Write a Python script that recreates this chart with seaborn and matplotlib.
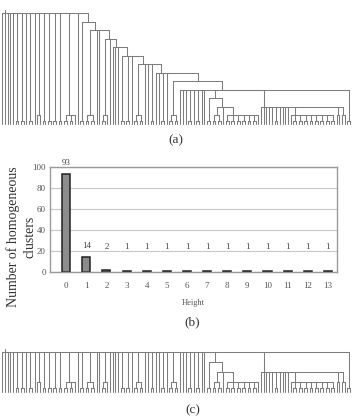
import numpy as np
import pandas as pd
import seaborn as sns
from matplotlib import pyplot as plt

# (b) number of homogeneous clusters per height
heights = list(range(14))
n_clusters = [93, 14, 2, 1, 1, 1, 1, 1, 1, 1, 1, 1, 1, 1]

# dendrogram: an int n is n leaves (n > 1 joined just above the base),
# a tuple is (merge height, children); children merge right to left
s1 = (1, [2, 2, 2, 2, 2, 2, 1])
s2 = (2, [(1, [2, 2]), 1, s1])
s3 = (3, [2, s2])
r2 = (2, [1, 1, 1, 1, 1, 2, 1, 1, 1, 1,
          (1, [1, 2, 2, 2, 2, 2, 2, 2, 2]), (1, [1, 1]), (1, [1, 1])])
s4 = (4, [(4, [1, 1, 1, 2, 1, 2, 1, 1]), (4, [s3, r2, 2])])
s5 = (5, [(1, [2, 2]), s4])
s6 = (6, [1, 1, 2, 1, s5])
s7 = (7, [(1, [2, 2]), 1, 1, 2, s6])
s8 = (8, [2, 2, 1, s7])
s9 = (9, [1, 1, 1, s8])
s10 = (10, [(1, [2, 1]), 1, s9])
s11 = (11, [(1, [2, 2]), 1, 1, s10])
s12 = (12, [2, s11])
root = (13, [1, 1, 1, 1, 1, 2, 2, 1, 2, 1, (1, [1, 1]), 2, 2, 2, 2,
             (1, [2, 2, 1]), 1, s12])
bump = 0.4
cut_c = 4   # (c) is the same tree cut at this height


def flatten(node, cut):
    if isinstance(node, int) or node[0] < cut:
        return [node]
    out = []
    for k in node[1]:
        out += flatten(k, cut)
    return out


def layout(node, rows, pos):
    if isinstance(node, int):
        xs = [pos[0] + i for i in range(node)]
        pos[0] += node
        if node == 1:
            return xs[0], 0
        for x in xs:
            rows.append([(x, 0), (x, bump)])
        rows.append([(xs[0], bump), (xs[-1], bump)])
        return np.mean(xs), bump
    h, kids = node
    pts = [layout(k, rows, pos) for k in kids]
    for x, y in pts:
        if y < h:
            rows.append([(x, y), (x, h)])
    rows.append([(pts[0][0], h), (pts[-1][0], h)])
    # binary merges from the right: each join sits half way
    stem = pts[-1][0]
    for x, _ in reversed(pts[:-1]):
        stem = (x + stem) / 2
    return stem, h


def dendro_df(tree):
    rows = []
    pos = [0]
    x0, h0 = layout(tree, rows, pos)
    rows.append([(x0, h0), (x0, h0 + 0.35)])
    recs = []
    for i, seg in enumerate(rows):
        for x, y in seg:
            recs.append({"seg": i, "x": x, "y": y})
    return pd.DataFrame(recs), pos[0]


sns.set_style("white")
plt.rcParams["font.family"] = ["Liberation Serif", "DejaVu Serif"]

fig = plt.figure(figsize=(3.56, 4.19), dpi=100)
W, H = 356, 419
ax_a = fig.add_axes([0, 1 - 126 / H, 352 / W, 116 / H])
ax_b = fig.add_axes([50 / W, 1 - 272 / H, 287 / W, 105 / H])
ax_c = fig.add_axes([0, 1 - 394 / H, 352 / W, 47 / H])

line_col = "#7d7d7d"
for ax, tree, lims in [(ax_a, root, (-0.23, 13.35)),
                       (ax_c, (cut_c, flatten(root, cut_c)), (-0.2, 4.5))]:
    df, n_leaves = dendro_df(tree)
    sns.lineplot(data=df, x="x", y="y", units="seg", estimator=None, sort=False,
                 color=line_col, linewidth=0.75, ax=ax)
    ax.set_xlim(-0.8, n_leaves - 0.3)
    ax.set_ylim(*lims)
    ax.axis("off")

# (b)
sns.barplot(x=heights, y=n_clusters, ax=ax_b, color="#8c8c8c", edgecolor="#222222",
            linewidth=1.1, width=0.4, saturation=1)
ax_b.set_xlim(-0.8, 13.45)
ax_b.set_ylim(0, 100)
ax_b.set_yticks(range(0, 101, 20))
ax_b.grid(axis="y", color="#c8c8c8", linewidth=0.8)
ax_b.set_axisbelow(True)
for sp in ax_b.spines.values():
    sp.set_color("#9a9a9a")
    sp.set_linewidth(1)
ax_b.tick_params(length=0, labelsize=6.5, labelcolor="#555555")
ax_b.tick_params(axis="x", pad=7)
ax_b.tick_params(axis="y", pad=3)
for i, v in enumerate(n_clusters):
    ax_b.text(i, max(v, 12.5) + 11, str(v), ha="center", va="center",
              fontsize=6.5, color="#444444")
ax_b.set_xlabel("Height", fontsize=6, color="#555555", labelpad=7)
ax_b.set_ylabel("")
fig.text(13 / W, 1 - 237 / H, "Number of homogeneous", rotation=90,
         ha="center", va="center", fontsize=10, color="#333333")
fig.text(30.5 / W, 1 - 237 / H, "clusters", rotation=90,
         ha="center", va="center", fontsize=10, color="#333333")

fig.text(176 / W, 1 - 140 / H, "(a)", ha="center", va="center", fontsize=9.5, color="#333333")
fig.text(192 / W, 1 - 322 / H, "(b)", ha="center", va="center", fontsize=9.5, color="#333333")
fig.text(193 / W, 1 - 410 / H, "(c)", ha="center", va="center", fontsize=9.5, color="#333333")

fig.savefig("out.png", dpi=100)
